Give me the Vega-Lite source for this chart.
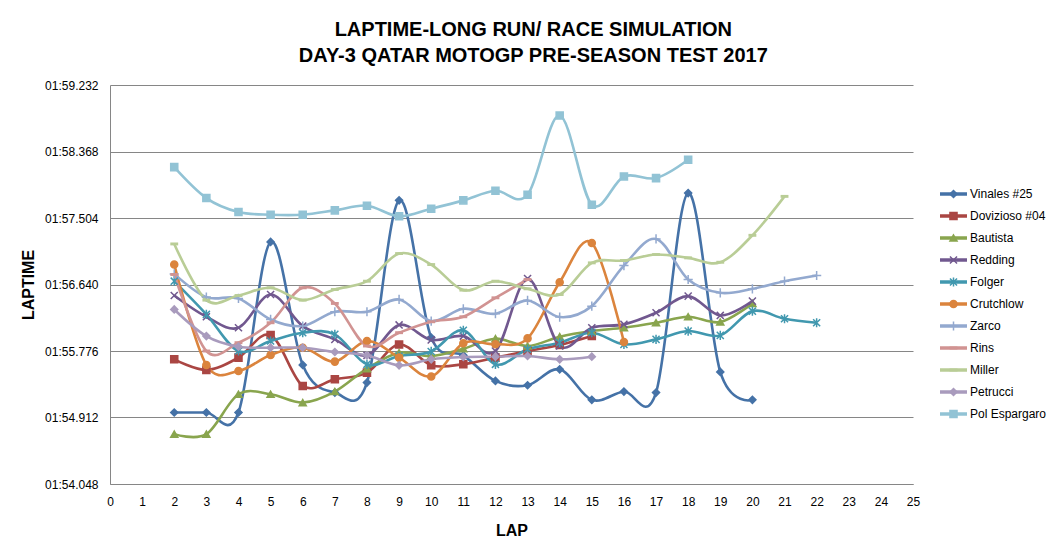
{
  "$schema": "https://vega.github.io/schema/vega-lite/v6.json",
  "background": "white",
  "padding": {"left": 20, "top": 20, "right": 5, "bottom": 5},
  "title": {
    "text": ["LAPTIME-LONG RUN/ RACE SIMULATION", "DAY-3 QATAR MOTOGP  PRE-SEASON TEST 2017"],
    "font": "Liberation Sans Narrow, Liberation Sans",
    "fontSize": 20,
    "fontWeight": "bold",
    "lineHeight": 26,
    "color": "black",
    "anchor": "middle",
    "offset": 13
  },
  "data": {
    "values": [
      {"rider": "Vinales #25", "lap": 2, "time": 114.977}, {"rider": "Vinales #25", "lap": 3, "time": 114.977},
      {"rider": "Vinales #25", "lap": 4, "time": 114.977}, {"rider": "Vinales #25", "lap": 5, "time": 117.193},
      {"rider": "Vinales #25", "lap": 6, "time": 115.595}, {"rider": "Vinales #25", "lap": 7, "time": 115.236},
      {"rider": "Vinales #25", "lap": 8, "time": 115.366}, {"rider": "Vinales #25", "lap": 9, "time": 117.733},
      {"rider": "Vinales #25", "lap": 10, "time": 115.95}, {"rider": "Vinales #25", "lap": 11, "time": 115.72},
      {"rider": "Vinales #25", "lap": 12, "time": 115.387}, {"rider": "Vinales #25", "lap": 13, "time": 115.331},
      {"rider": "Vinales #25", "lap": 14, "time": 115.538}, {"rider": "Vinales #25", "lap": 15, "time": 115.141},
      {"rider": "Vinales #25", "lap": 16, "time": 115.249}, {"rider": "Vinales #25", "lap": 17, "time": 115.236},
      {"rider": "Vinales #25", "lap": 18, "time": 117.828}, {"rider": "Vinales #25", "lap": 19, "time": 115.504},
      {"rider": "Vinales #25", "lap": 20, "time": 115.141},

      {"rider": "Dovizioso #04", "lap": 2, "time": 115.668}, {"rider": "Dovizioso #04", "lap": 3, "time": 115.53},
      {"rider": "Dovizioso #04", "lap": 4, "time": 115.69}, {"rider": "Dovizioso #04", "lap": 5, "time": 115.983},
      {"rider": "Dovizioso #04", "lap": 6, "time": 115.322}, {"rider": "Dovizioso #04", "lap": 7, "time": 115.409},
      {"rider": "Dovizioso #04", "lap": 8, "time": 115.495}, {"rider": "Dovizioso #04", "lap": 9, "time": 115.86},
      {"rider": "Dovizioso #04", "lap": 10, "time": 115.592}, {"rider": "Dovizioso #04", "lap": 11, "time": 115.605},
      {"rider": "Dovizioso #04", "lap": 12, "time": 115.69}, {"rider": "Dovizioso #04", "lap": 13, "time": 115.776},
      {"rider": "Dovizioso #04", "lap": 14, "time": 115.854}, {"rider": "Dovizioso #04", "lap": 15, "time": 115.97},

      {"rider": "Bautista", "lap": 2, "time": 114.696}, {"rider": "Bautista", "lap": 3, "time": 114.696},
      {"rider": "Bautista", "lap": 4, "time": 115.214}, {"rider": "Bautista", "lap": 5, "time": 115.214},
      {"rider": "Bautista", "lap": 6, "time": 115.106}, {"rider": "Bautista", "lap": 7, "time": 115.249},
      {"rider": "Bautista", "lap": 8, "time": 115.547}, {"rider": "Bautista", "lap": 9, "time": 115.754},
      {"rider": "Bautista", "lap": 10, "time": 115.711}, {"rider": "Bautista", "lap": 11, "time": 115.806},
      {"rider": "Bautista", "lap": 12, "time": 115.936}, {"rider": "Bautista", "lap": 13, "time": 115.841},
      {"rider": "Bautista", "lap": 14, "time": 115.962}, {"rider": "Bautista", "lap": 15, "time": 116.035},
      {"rider": "Bautista", "lap": 16, "time": 116.078}, {"rider": "Bautista", "lap": 17, "time": 116.143},
      {"rider": "Bautista", "lap": 18, "time": 116.221}, {"rider": "Bautista", "lap": 19, "time": 116.152},
      {"rider": "Bautista", "lap": 20, "time": 116.394},

      {"rider": "Redding", "lap": 2, "time": 116.497}, {"rider": "Redding", "lap": 3, "time": 116.221},
      {"rider": "Redding", "lap": 4, "time": 116.078}, {"rider": "Redding", "lap": 5, "time": 116.51},
      {"rider": "Redding", "lap": 6, "time": 116.1}, {"rider": "Redding", "lap": 7, "time": 115.927},
      {"rider": "Redding", "lap": 8, "time": 115.72}, {"rider": "Redding", "lap": 9, "time": 116.115},
      {"rider": "Redding", "lap": 10, "time": 115.92}, {"rider": "Redding", "lap": 11, "time": 115.97},
      {"rider": "Redding", "lap": 12, "time": 115.776}, {"rider": "Redding", "lap": 13, "time": 116.718},
      {"rider": "Redding", "lap": 14, "time": 115.841}, {"rider": "Redding", "lap": 15, "time": 116.078},
      {"rider": "Redding", "lap": 16, "time": 116.122}, {"rider": "Redding", "lap": 17, "time": 116.273},
      {"rider": "Redding", "lap": 18, "time": 116.489}, {"rider": "Redding", "lap": 19, "time": 116.238},
      {"rider": "Redding", "lap": 20, "time": 116.424},

      {"rider": "Folger", "lap": 2, "time": 116.683}, {"rider": "Folger", "lap": 3, "time": 116.251},
      {"rider": "Folger", "lap": 4, "time": 115.776}, {"rider": "Folger", "lap": 5, "time": 115.906},
      {"rider": "Folger", "lap": 6, "time": 116.014}, {"rider": "Folger", "lap": 7, "time": 115.992},
      {"rider": "Folger", "lap": 8, "time": 115.603}, {"rider": "Folger", "lap": 9, "time": 115.711},
      {"rider": "Folger", "lap": 10, "time": 115.77}, {"rider": "Folger", "lap": 11, "time": 116.045},
      {"rider": "Folger", "lap": 12, "time": 115.603}, {"rider": "Folger", "lap": 13, "time": 115.798},
      {"rider": "Folger", "lap": 14, "time": 115.884}, {"rider": "Folger", "lap": 15, "time": 116.014},
      {"rider": "Folger", "lap": 16, "time": 115.862}, {"rider": "Folger", "lap": 17, "time": 115.927},
      {"rider": "Folger", "lap": 18, "time": 116.035}, {"rider": "Folger", "lap": 19, "time": 115.979},
      {"rider": "Folger", "lap": 20, "time": 116.294}, {"rider": "Folger", "lap": 21, "time": 116.195},
      {"rider": "Folger", "lap": 22, "time": 116.143},

      {"rider": "Crutchlow", "lap": 2, "time": 116.899}, {"rider": "Crutchlow", "lap": 3, "time": 115.595},
      {"rider": "Crutchlow", "lap": 4, "time": 115.517}, {"rider": "Crutchlow", "lap": 5, "time": 115.724},
      {"rider": "Crutchlow", "lap": 6, "time": 115.819}, {"rider": "Crutchlow", "lap": 7, "time": 115.638},
      {"rider": "Crutchlow", "lap": 8, "time": 115.906}, {"rider": "Crutchlow", "lap": 9, "time": 115.69},
      {"rider": "Crutchlow", "lap": 10, "time": 115.445}, {"rider": "Crutchlow", "lap": 11, "time": 115.877},
      {"rider": "Crutchlow", "lap": 12, "time": 115.864}, {"rider": "Crutchlow", "lap": 13, "time": 115.94},
      {"rider": "Crutchlow", "lap": 14, "time": 116.67}, {"rider": "Crutchlow", "lap": 15, "time": 117.18},
      {"rider": "Crutchlow", "lap": 16, "time": 115.893},

      {"rider": "Zarco", "lap": 2, "time": 116.778}, {"rider": "Zarco", "lap": 3, "time": 116.476},
      {"rider": "Zarco", "lap": 4, "time": 116.459}, {"rider": "Zarco", "lap": 5, "time": 116.186},
      {"rider": "Zarco", "lap": 6, "time": 116.1}, {"rider": "Zarco", "lap": 7, "time": 116.286},
      {"rider": "Zarco", "lap": 8, "time": 116.286}, {"rider": "Zarco", "lap": 9, "time": 116.446},
      {"rider": "Zarco", "lap": 10, "time": 116.165}, {"rider": "Zarco", "lap": 11, "time": 116.325},
      {"rider": "Zarco", "lap": 12, "time": 116.26}, {"rider": "Zarco", "lap": 13, "time": 116.433},
      {"rider": "Zarco", "lap": 14, "time": 116.217}, {"rider": "Zarco", "lap": 15, "time": 116.359},
      {"rider": "Zarco", "lap": 16, "time": 116.886}, {"rider": "Zarco", "lap": 17, "time": 117.232},
      {"rider": "Zarco", "lap": 18, "time": 116.705}, {"rider": "Zarco", "lap": 19, "time": 116.532},
      {"rider": "Zarco", "lap": 20, "time": 116.584}, {"rider": "Zarco", "lap": 21, "time": 116.683},
      {"rider": "Zarco", "lap": 22, "time": 116.757},

      {"rider": "Rins", "lap": 2, "time": 116.77}, {"rider": "Rins", "lap": 3, "time": 115.776},
      {"rider": "Rins", "lap": 4, "time": 115.884}, {"rider": "Rins", "lap": 5, "time": 116.143},
      {"rider": "Rins", "lap": 6, "time": 116.597}, {"rider": "Rins", "lap": 7, "time": 116.394},
      {"rider": "Rins", "lap": 8, "time": 115.841}, {"rider": "Rins", "lap": 9, "time": 116.014},
      {"rider": "Rins", "lap": 10, "time": 116.156}, {"rider": "Rins", "lap": 11, "time": 116.221},
      {"rider": "Rins", "lap": 12, "time": 116.467}, {"rider": "Rins", "lap": 13, "time": 116.705},

      {"rider": "Miller", "lap": 2, "time": 117.167}, {"rider": "Miller", "lap": 3, "time": 116.437},
      {"rider": "Miller", "lap": 4, "time": 116.497}, {"rider": "Miller", "lap": 5, "time": 116.597},
      {"rider": "Miller", "lap": 6, "time": 116.437}, {"rider": "Miller", "lap": 7, "time": 116.575},
      {"rider": "Miller", "lap": 8, "time": 116.683}, {"rider": "Miller", "lap": 9, "time": 117.042},
      {"rider": "Miller", "lap": 10, "time": 116.899}, {"rider": "Miller", "lap": 11, "time": 116.567},
      {"rider": "Miller", "lap": 12, "time": 116.683}, {"rider": "Miller", "lap": 13, "time": 116.584},
      {"rider": "Miller", "lap": 14, "time": 116.51}, {"rider": "Miller", "lap": 15, "time": 116.921},
      {"rider": "Miller", "lap": 16, "time": 116.951}, {"rider": "Miller", "lap": 17, "time": 117.029},
      {"rider": "Miller", "lap": 18, "time": 116.986}, {"rider": "Miller", "lap": 19, "time": 116.929},
      {"rider": "Miller", "lap": 20, "time": 117.279}, {"rider": "Miller", "lap": 21, "time": 117.785},

      {"rider": "Petrucci", "lap": 2, "time": 116.316}, {"rider": "Petrucci", "lap": 3, "time": 115.97},
      {"rider": "Petrucci", "lap": 4, "time": 115.832}, {"rider": "Petrucci", "lap": 5, "time": 115.819},
      {"rider": "Petrucci", "lap": 6, "time": 115.819}, {"rider": "Petrucci", "lap": 7, "time": 115.763},
      {"rider": "Petrucci", "lap": 8, "time": 115.72}, {"rider": "Petrucci", "lap": 9, "time": 115.59},
      {"rider": "Petrucci", "lap": 10, "time": 115.668}, {"rider": "Petrucci", "lap": 11, "time": 115.698},
      {"rider": "Petrucci", "lap": 12, "time": 115.702}, {"rider": "Petrucci", "lap": 13, "time": 115.711},
      {"rider": "Petrucci", "lap": 14, "time": 115.668}, {"rider": "Petrucci", "lap": 15, "time": 115.702},

      {"rider": "Pol Espargaro", "lap": 2, "time": 118.165}, {"rider": "Pol Espargaro", "lap": 3, "time": 117.763},
      {"rider": "Pol Espargaro", "lap": 4, "time": 117.582}, {"rider": "Pol Espargaro", "lap": 5, "time": 117.547},
      {"rider": "Pol Espargaro", "lap": 6, "time": 117.547}, {"rider": "Pol Espargaro", "lap": 7, "time": 117.603},
      {"rider": "Pol Espargaro", "lap": 8, "time": 117.664}, {"rider": "Pol Espargaro", "lap": 9, "time": 117.526},
      {"rider": "Pol Espargaro", "lap": 10, "time": 117.625}, {"rider": "Pol Espargaro", "lap": 11, "time": 117.733},
      {"rider": "Pol Espargaro", "lap": 12, "time": 117.858}, {"rider": "Pol Espargaro", "lap": 13, "time": 117.806},
      {"rider": "Pol Espargaro", "lap": 14, "time": 118.835}, {"rider": "Pol Espargaro", "lap": 15, "time": 117.677},
      {"rider": "Pol Espargaro", "lap": 16, "time": 118.044}, {"rider": "Pol Espargaro", "lap": 17, "time": 118.022},
      {"rider": "Pol Espargaro", "lap": 18, "time": 118.26}
    ]
  },
  "spacing": 18,
  "hconcat": [
    {
      "width": 803,
      "height": 399,
      "encoding": {
        "x": {
          "field": "lap",
          "type": "quantitative",
          "scale": {"domain": [0, 25], "nice": false},
          "axis": {
            "values": [0, 1, 2, 3, 4, 5, 6, 7, 8, 9, 10, 11, 12, 13, 14, 15, 16, 17, 18, 19, 20, 21, 22, 23, 24, 25],
            "grid": false,
            "ticks": false,
            "labelPadding": 12,
            "labelFlush": false,
            "labelOverlap": false,
            "title": "LAP",
            "titlePadding": 15
          }
        },
        "y": {
          "field": "time",
          "type": "quantitative",
          "scale": {"domain": [114.048, 119.232], "nice": false, "zero": false},
          "axis": {
            "values": [114.048, 114.912, 115.776, 116.64, 117.504, 118.368, 119.232],
            "labelExpr": "'0' + floor(datum.value / 60) + ':' + format(datum.value - 60 * floor(datum.value / 60), '06.3f')",
            "grid": true,
            "ticks": false,
            "labelPadding": 12,
            "title": "LAPTIME",
            "titlePadding": 8
          }
        },
        "color": {
          "field": "rider",
          "type": "nominal",
          "scale": {
            "domain": ["Vinales #25", "Dovizioso #04", "Bautista", "Redding", "Folger", "Crutchlow", "Zarco", "Rins", "Miller", "Petrucci", "Pol Espargaro"],
            "range": ["#4572A7", "#AA4643", "#89A54E", "#71588F", "#4198AF", "#DB843D", "#93A9CF", "#D19392", "#B9CD96", "#A99BBD", "#92C3D5"]
          },
          "legend": null
        }
      },
      "layer": [
        {"mark": {"type": "line", "interpolate": "cardinal", "tension": 0, "strokeWidth": 2.6}},
        {
          "mark": {"type": "point", "filled": true, "size": 50, "strokeWidth": 1.5, "opacity": 1},
          "encoding": {
            "stroke": {
              "field": "rider",
              "type": "nominal",
              "scale": {
                "domain": ["Vinales #25", "Dovizioso #04", "Bautista", "Redding", "Folger", "Crutchlow", "Zarco", "Rins", "Miller", "Petrucci", "Pol Espargaro"],
                "range": ["#4572A7", "#AA4643", "#89A54E", "#71588F", "#4198AF", "#DB843D", "#93A9CF", "#D19392", "#B9CD96", "#A99BBD", "#92C3D5"]
              },
              "legend": null
            },
            "shape": {
              "field": "rider",
              "type": "nominal",
              "scale": {
                "domain": ["Vinales #25", "Dovizioso #04", "Bautista", "Redding", "Folger", "Crutchlow", "Zarco", "Rins", "Miller", "Petrucci", "Pol Espargaro"],
                "range": ["diamond", "square", "triangle-up", "M-1,-1L1,1M-1,1L1,-1", "M-1,-1L1,1M-1,1L1,-1M0,-1.3L0,1.3", "circle", "M-1.3,0L1.3,0M0,-1.3L0,1.3", "M-0.9,-0.2H0.9V0.2H-0.9Z", "M-0.9,-0.2H0.9V0.2H-0.9Z", "diamond", "square"]
              },
              "legend": null
            }
          }
        }
      ]
    },
    {
      "width": 27,
      "height": 399,
      "transform": [{"aggregate": [{"op": "count", "as": "n"}], "groupby": ["rider"]}],
      "encoding": {
        "y": {
          "field": "rider",
          "type": "nominal",
          "scale": {
            "type": "point",
            "domain": ["Vinales #25", "Dovizioso #04", "Bautista", "Redding", "Folger", "Crutchlow", "Zarco", "Rins", "Miller", "Petrucci", "Pol Espargaro"],
            "range": [98, 340]
          },
          "axis": null
        },
        "color": {
          "field": "rider",
          "type": "nominal",
          "scale": {
            "domain": ["Vinales #25", "Dovizioso #04", "Bautista", "Redding", "Folger", "Crutchlow", "Zarco", "Rins", "Miller", "Petrucci", "Pol Espargaro"],
            "range": ["#4572A7", "#AA4643", "#89A54E", "#71588F", "#4198AF", "#DB843D", "#93A9CF", "#D19392", "#B9CD96", "#A99BBD", "#92C3D5"]
          },
          "legend": null
        }
      },
      "layer": [
        {
          "mark": {"type": "rule", "strokeWidth": 3.5},
          "encoding": {
            "x": {"datum": 0, "type": "quantitative", "scale": {"domain": [0, 1]}, "axis": null},
            "x2": {"datum": 1}
          }
        },
        {
          "mark": {"type": "point", "filled": true, "size": 50, "strokeWidth": 1.5, "opacity": 1},
          "encoding": {
            "x": {"datum": 0.5, "type": "quantitative"},
            "stroke": {
              "field": "rider",
              "type": "nominal",
              "scale": {
                "domain": ["Vinales #25", "Dovizioso #04", "Bautista", "Redding", "Folger", "Crutchlow", "Zarco", "Rins", "Miller", "Petrucci", "Pol Espargaro"],
                "range": ["#4572A7", "#AA4643", "#89A54E", "#71588F", "#4198AF", "#DB843D", "#93A9CF", "#D19392", "#B9CD96", "#A99BBD", "#92C3D5"]
              },
              "legend": null
            },
            "shape": {
              "field": "rider",
              "type": "nominal",
              "scale": {
                "domain": ["Vinales #25", "Dovizioso #04", "Bautista", "Redding", "Folger", "Crutchlow", "Zarco", "Rins", "Miller", "Petrucci", "Pol Espargaro"],
                "range": ["diamond", "square", "triangle-up", "M-1,-1L1,1M-1,1L1,-1", "M-1,-1L1,1M-1,1L1,-1M0,-1.3L0,1.3", "circle", "M-1.3,0L1.3,0M0,-1.3L0,1.3", "M-0.9,-0.2H0.9V0.2H-0.9Z", "M-0.9,-0.2H0.9V0.2H-0.9Z", "diamond", "square"]
              },
              "legend": null
            }
          }
        },
        {
          "mark": {"type": "text", "align": "left", "baseline": "middle", "dx": 3, "fontSize": 12, "font": "Liberation Sans", "color": "black"},
          "encoding": {
            "x": {"datum": 1, "type": "quantitative"},
            "text": {"field": "rider"},
            "color": {"value": "black"}
          }
        }
      ]
    }
  ],
  "config": {
    "view": {"stroke": null},
    "font": "Liberation Sans",
    "axis": {
      "domainColor": "#868686",
      "gridColor": "#868686",
      "gridOpacity": 1,
      "labelFont": "Liberation Sans",
      "labelFontSize": 12,
      "labelColor": "black",
      "titleFont": "Liberation Sans",
      "titleFontSize": 16,
      "titleFontWeight": "bold",
      "titleColor": "black"
    }
  }
}
